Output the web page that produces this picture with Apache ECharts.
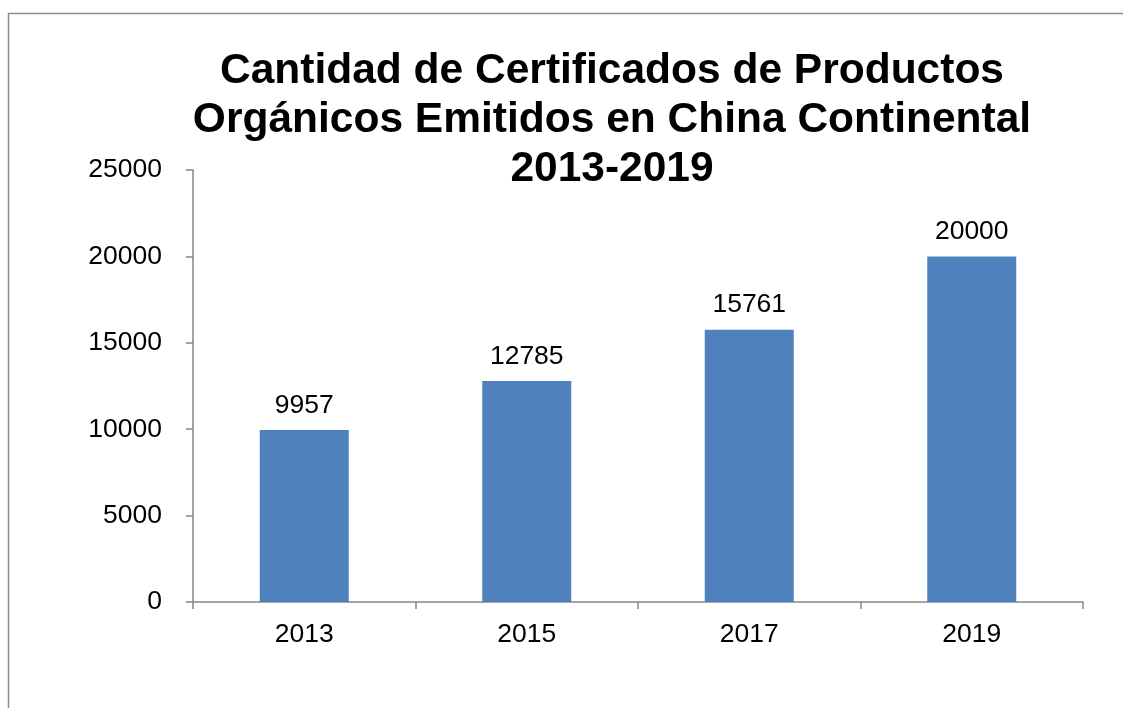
<!DOCTYPE html>
<html>
<head>
<meta charset="utf-8">
<script src="https://cdn.jsdelivr.net/npm/echarts@6/dist/echarts.min.js"></script>
<style>
  html, body { margin: 0; padding: 0; background: #fff; }
  #chart { width: 1123px; height: 708px; }
</style>
</head>
<body>
<div id="chart"></div>
<script>
// datos
const years = ['2013', '2015', '2017', '2019']
const certificados = [9957, 12785, 15761, 20000]
const yTicks = [0, 5000, 10000, 15000, 20000, 25000]

const FONT = '"Liberation Sans", Arial, sans-serif'
const chart = echarts.init(document.getElementById('chart'))

const option = {
  backgroundColor: '#ffffff',
  animation: false,
  title: {
    text: 'Cantidad de Certificados de Productos\nOrgánicos Emitidos en China Continental\n2013-2019',
    left: 607,
    top: 42,
    textAlign: 'center',
    textStyle: {
      fontFamily: FONT,
      fontWeight: 'bold',
      fontSize: 42.5,
      lineHeight: 49,
      color: '#000'
    }
  },
  // marco exterior (solo se ven los bordes superior e izquierdo)
  graphic: [
    {
      type: 'polyline',
      shape: { points: [[8.5, 720], [8.5, 13.5], [1130, 13.5]] },
      style: { stroke: '#8c8c8c', lineWidth: 1.5, fill: null },
      silent: true
    }
  ],
  grid: {
    left: 193,
    right: 40,
    top: 170,
    bottom: 106
  },
  xAxis: {
    type: 'category',
    data: years,
    axisLine: { lineStyle: { color: '#868686', width: 1.5 } },
    axisTick: { show: true, length: 7, alignWithLabel: false, lineStyle: { color: '#868686', width: 1.5 } },
    axisLabel: { fontFamily: FONT, fontSize: 26.5, color: '#000', margin: 19 }
  },
  yAxis: {
    type: 'value',
    min: yTicks[0],
    max: yTicks[yTicks.length - 1],
    interval: yTicks[1] - yTicks[0],
    axisLine: { show: true, lineStyle: { color: '#868686', width: 1.5 } },
    axisTick: { show: true, length: 7, lineStyle: { color: '#868686', width: 1.5 } },
    splitLine: { show: false },
    axisLabel: {
      fontFamily: FONT,
      fontSize: 26.5,
      color: '#000',
      margin: 31,
      formatter: (v) => String(v)
    }
  },
  series: [
    {
      type: 'bar',
      data: certificados,
      barCategoryGap: '60%',
      itemStyle: { color: '#4f81bd' },
      label: {
        show: true,
        position: 'top',
        distance: 11,
        fontFamily: FONT,
        fontSize: 26.5,
        color: '#000'
      }
    }
  ]
}
chart.setOption(option)
</script>
</body>
</html>
